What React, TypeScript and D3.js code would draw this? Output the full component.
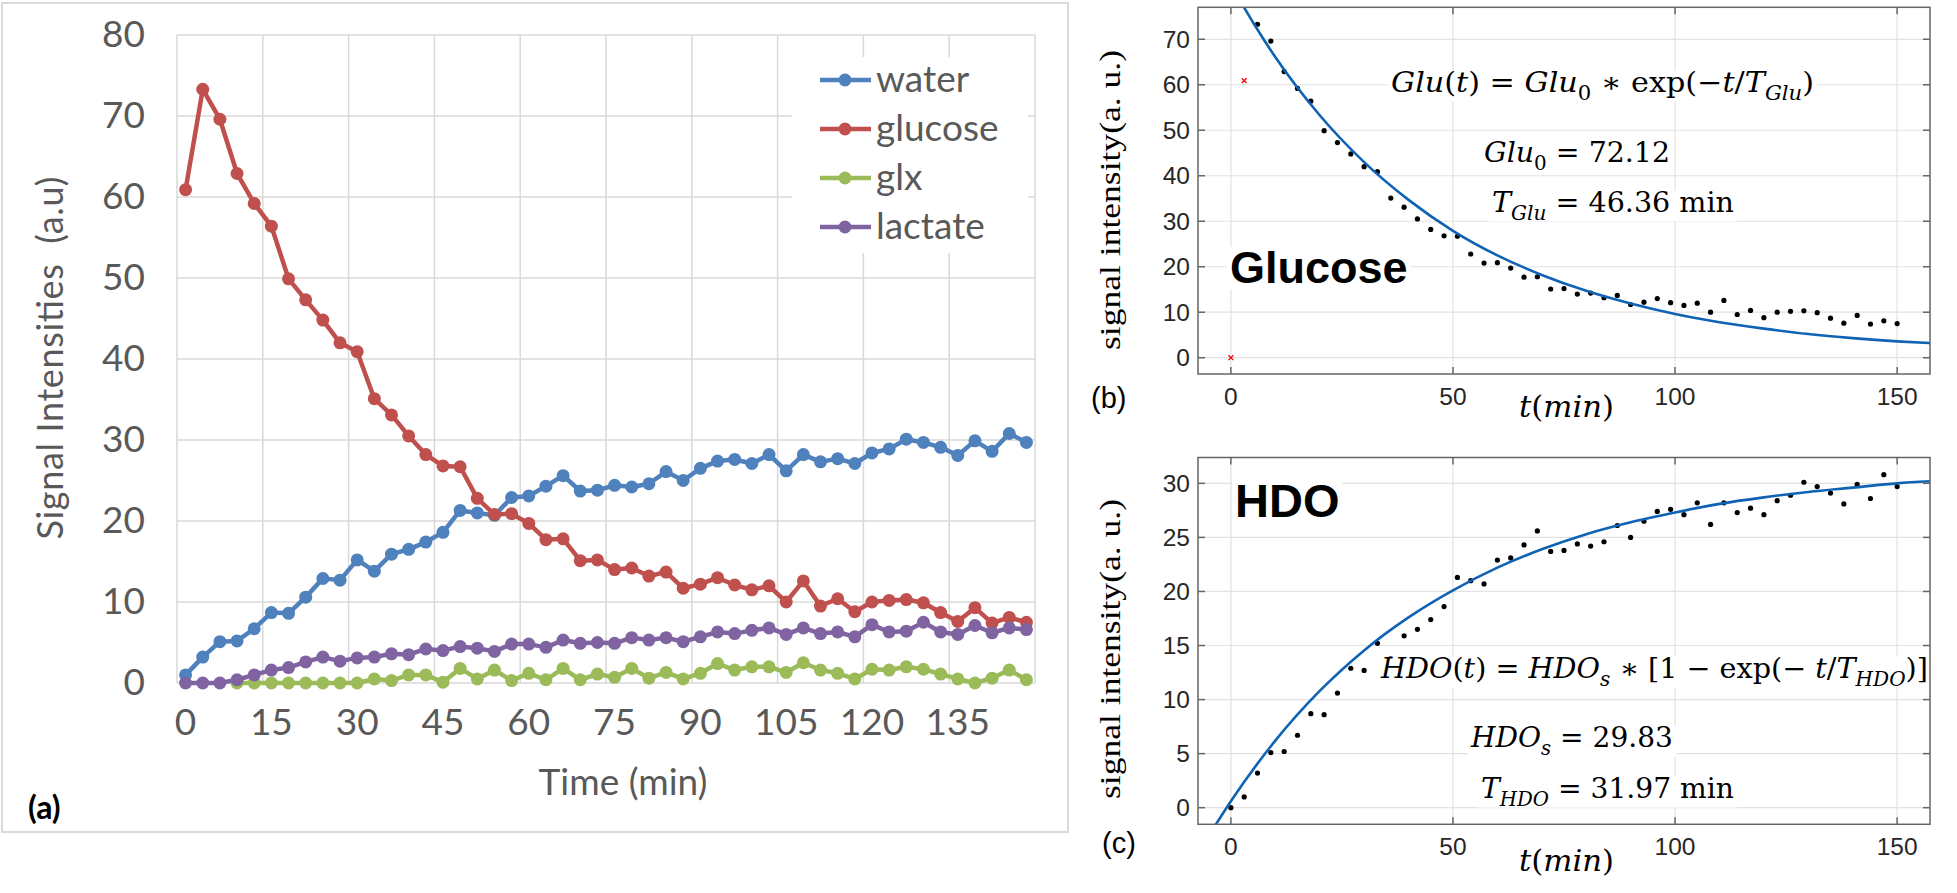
import { useEffect, useRef } from "react";
import * as d3 from "d3";

const WIDTH = 1957;
const HEIGHT = 893;

const EXCEL_FONT = "Lato, 'Open Sans', 'DejaVu Sans', sans-serif";
const MATLAB_FONT = "'Liberation Sans', Arial, sans-serif";
const MATH_FONT = "'DejaVu Serif', 'Liberation Serif', serif";
const TITLE_SERIF = "'Liberation Serif', 'Times New Roman', serif";

// ---- (a) four metabolites, one acquisition every 3 min ----
const TIMES = d3.range(0, 150, 3);
const LABEL_EVERY = 5;

const WATER = [
  1.0, 3.2, 5.1, 5.2, 6.7, 8.7, 8.6, 10.6, 12.9, 12.7,
  15.2, 13.8, 15.9, 16.5, 17.4, 18.6, 21.3, 21.0, 20.7, 22.9,
  23.1, 24.3, 25.6, 23.7, 23.8, 24.4, 24.2, 24.6, 26.1, 25.0,
  26.5, 27.4, 27.6, 27.1, 28.2, 26.2, 28.2, 27.3, 27.7, 27.1,
  28.4, 28.9, 30.1, 29.7, 29.1, 28.1, 29.9, 28.6, 30.8, 29.7,
];
const GLUCOSE = [
  60.9, 73.3, 69.6, 62.9, 59.2, 56.4, 49.9, 47.3, 44.8, 42.0,
  40.9, 35.1, 33.1, 30.5, 28.2, 26.8, 26.7, 22.8, 20.8, 20.9,
  19.7, 17.7, 17.8, 15.1, 15.2, 14.0, 14.2, 13.2, 13.7, 11.7,
  12.2, 13.0, 12.1, 11.5, 12.0, 10.0, 12.6, 9.5, 10.4, 8.8,
  10.0, 10.2, 10.3, 9.9, 8.7, 7.6, 9.3, 7.4, 8.1, 7.5,
];
const GLX: (number | null)[] = [
  null, null, null, 0, 0, 0, 0, 0, 0, 0,
  0, 0.5, 0.3, 1.0, 1.0, 0.1, 1.8, 0.5, 1.6, 0.3,
  1.2, 0.4, 1.8, 0.4, 1.1, 0.7, 1.8, 0.6, 1.3, 0.5,
  1.2, 2.4, 1.6, 2.0, 2.0, 1.3, 2.5, 1.6, 1.2, 0.5,
  1.7, 1.6, 2.0, 1.7, 1.1, 0.5, 0.0, 0.6, 1.6, 0.4,
];
const LACTATE = [
  0, 0, 0, 0.4, 1.0, 1.6, 1.9, 2.6, 3.2, 2.7,
  3.1, 3.2, 3.6, 3.5, 4.2, 4.0, 4.5, 4.3, 3.9, 4.8,
  4.8, 4.4, 5.3, 4.9, 5.0, 4.9, 5.6, 5.3, 5.6, 5.1,
  5.7, 6.3, 6.1, 6.5, 6.8, 6.0, 6.8, 6.1, 6.3, 5.7,
  7.2, 6.3, 6.4, 7.5, 6.3, 6.0, 7.1, 6.2, 6.8, 6.6,
];

const SERIES = [
  { name: "water", color: "#4f81bd", values: WATER as (number | null)[] },
  { name: "glucose", color: "#c0504d", values: GLUCOSE as (number | null)[] },
  { name: "glx", color: "#9bbb59", values: GLX },
  { name: "lactate", color: "#8064a2", values: LACTATE as (number | null)[] },
];

// ---- (b), (c) same acquisitions on a clock starting at 0 ----
const FIT_TIMES = d3.range(0, 151, 3);
const GLU_POINTS = [0, ...GLUCOSE];
const GLU_EXCLUDED = 2; // first two points are left out of the fit (red crosses)
const HDO_POINTS = [0, ...WATER];

// fitted curves
const GLU_CURVE_T = [2, 5, 10, 20, 30, 40, 50, 60, 70, 80, 90, 100, 110, 120, 130, 140, 150, 158];
const GLU_CURVE_V = [78.6, 73.7, 66.1, 53.3, 43.0, 34.7, 27.9, 22.5, 18.2, 14.7, 11.9, 9.6, 7.8, 6.4, 5.2, 4.3, 3.6, 3.2];
const HDO_CURVE_T = [-4, 0, 10, 20, 30, 40, 50, 60, 70, 80, 90, 100, 110, 120, 130, 140, 150, 158];
const HDO_CURVE_V = [-1.95, 0.6, 6.2, 10.8, 14.55, 17.6, 20.1, 22.2, 23.9, 25.3, 26.4, 27.3, 28.1, 28.7, 29.2, 29.6, 30.0, 30.2];

type Seg = { s: string; it?: boolean; sub?: boolean };
type Formula = { segs: Seg[]; x: number; y: number; len: number };

const GLU_FORMULAS: Formula[] = [
  {
    segs: [
      { s: "Glu", it: true }, { s: "(" }, { s: "t", it: true }, { s: ") = " },
      { s: "Glu", it: true }, { s: "0", sub: true }, { s: " ∗ exp(−" }, { s: "t", it: true },
      { s: "/" }, { s: "T", it: true }, { s: "Glu", it: true, sub: true }, { s: ")" },
    ],
    x: 1391, y: 92, len: 423,
  },
  { segs: [{ s: "Glu", it: true }, { s: "0", sub: true }, { s: " = 72.12" }], x: 1484, y: 162, len: 186 },
  { segs: [{ s: "T", it: true }, { s: "Glu", it: true, sub: true }, { s: " = 46.36 min" }], x: 1492, y: 212, len: 242 },
];

const HDO_FORMULAS: Formula[] = [
  {
    segs: [
      { s: "HDO", it: true }, { s: "(" }, { s: "t", it: true }, { s: ") = " },
      { s: "HDO", it: true }, { s: "s", it: true, sub: true }, { s: " ∗ [1 − exp(− " }, { s: "t", it: true },
      { s: "/" }, { s: "T", it: true }, { s: "HDO", it: true, sub: true }, { s: ")]" },
    ],
    x: 1381, y: 678, len: 547,
  },
  { segs: [{ s: "HDO", it: true }, { s: "s", it: true, sub: true }, { s: " = 29.83" }], x: 1471, y: 747, len: 202 },
  { segs: [{ s: "T", it: true }, { s: "HDO", it: true, sub: true }, { s: " = 31.97 min" }], x: 1481, y: 798, len: 253 },
];

type Sel = d3.Selection<SVGGElement, unknown, null, undefined>;

function drawPanelA(g: Sel) {
  g.append("rect")
    .attr("x", 2).attr("y", 3).attr("width", 1066).attr("height", 829)
    .attr("fill", "#fff").attr("stroke", "#d9d9d9").attr("stroke-width", 2);

  const x = d3.scaleBand<number>().domain(d3.range(TIMES.length)).range([177, 1035]);
  const cx = (i: number) => (x(i) ?? 0) + x.bandwidth() / 2;
  const y = d3.scaleLinear().domain([0, 80]).range([683, 35]);
  const [x0, x1] = x.range();

  // Grid
  const hg = g.append("g").attr("stroke", "#d9d9d9").attr("stroke-width", 1.5);
  hg.selectAll("line").data(y.ticks(8)).join("line")
    .attr("x1", x0).attr("x2", x1).attr("y1", (d) => y(d)).attr("y2", (d) => y(d));
  const vIdx = d3.range(0, TIMES.length, LABEL_EVERY);
  const vg = g.append("g").attr("stroke", "#d9d9d9").attr("stroke-width", 1.5);
  vg.selectAll("line").data([...vIdx.map((i) => x(i) ?? 0), x1]).join("line")
    .attr("x1", (d) => d).attr("x2", (d) => d).attr("y1", y(80)).attr("y2", y(0));

  // Axis labels
  g.append("g").selectAll("text").data(y.ticks(8)).join("text")
    .attr("x", 145).attr("y", (d) => y(d) + 12)
    .attr("text-anchor", "end").attr("font-family", EXCEL_FONT).attr("font-size", 37)
    .attr("fill", "#595959").text((d) => d);
  g.append("g").selectAll("text").data(vIdx).join("text")
    .attr("x", (i) => cx(i)).attr("y", 735)
    .attr("text-anchor", "middle").attr("font-family", EXCEL_FONT).attr("font-size", 37)
    .attr("fill", "#595959").text((i) => TIMES[i]);

  g.append("text")
    .attr("x", 623).attr("y", 795).attr("text-anchor", "middle")
    .attr("font-family", EXCEL_FONT).attr("font-size", 37).attr("fill", "#595959")
    .text("Time (min)");
  g.append("text")
    .attr("transform", "translate(63,358) rotate(-90)").attr("text-anchor", "middle")
    .attr("font-family", EXCEL_FONT).attr("font-size", 36).attr("fill", "#595959")
    .attr("textLength", 363).style("white-space", "pre")
    .text("Signal Intensities  (a.u)");
  g.append("text")
    .attr("x", 28).attr("y", 819).attr("font-family", EXCEL_FONT).attr("font-size", 32)
    .attr("font-weight", "bold").attr("fill", "#000").text("(a)");

  // Series
  for (const s of SERIES) {
    const pts = s.values
      .map((v, i) => ({ i, v }))
      .filter((d): d is { i: number; v: number } => d.v != null);
    const line = d3.line<{ i: number; v: number }>().x((d) => cx(d.i)).y((d) => y(d.v));
    const sg = g.append("g");
    sg.append("path").datum(pts).attr("d", line)
      .attr("fill", "none").attr("stroke", s.color).attr("stroke-width", 4.5)
      .attr("stroke-linejoin", "round");
    sg.selectAll("circle").data(pts).join("circle")
      .attr("cx", (d) => cx(d.i)).attr("cy", (d) => y(d.v)).attr("r", 6.5).attr("fill", s.color);
  }

  // Legend
  const lg = g.append("g");
  lg.append("rect").attr("x", 792).attr("y", 57).attr("width", 236).attr("height", 196).attr("fill", "#fff");
  SERIES.forEach((s, k) => {
    const cy = 80 + k * 49;
    lg.append("line").attr("x1", 820).attr("x2", 871).attr("y1", cy).attr("y2", cy)
      .attr("stroke", s.color).attr("stroke-width", 4.5);
    lg.append("circle").attr("cx", 845).attr("cy", cy).attr("r", 6.5).attr("fill", s.color);
    lg.append("text").attr("x", 876).attr("y", cy + 12)
      .attr("font-family", EXCEL_FONT).attr("font-size", 37).attr("fill", "#595959").text(s.name);
  });
}

function mathText(g: Sel, f: Formula, size: number) {
  g.append("rect")
    .attr("x", f.x - 3).attr("y", f.y - size * 0.76)
    .attr("width", f.len + 6).attr("height", size * 1.1).attr("fill", "#fff");
  const t = g.append("text")
    .attr("x", f.x).attr("y", f.y)
    .attr("font-family", MATH_FONT).attr("font-size", size).attr("fill", "#000")
    .attr("textLength", f.len).attr("lengthAdjust", "spacingAndGlyphs")
    .style("white-space", "pre");
  let down = false;
  for (const seg of f.segs) {
    const sp = t.append("tspan").text(seg.s).attr("font-style", seg.it ? "italic" : "normal");
    if (seg.sub) {
      sp.attr("font-size", size * 0.7);
      if (!down) { sp.attr("dy", size * 0.27); down = true; }
    } else if (down) {
      sp.attr("dy", -size * 0.27);
      down = false;
    }
  }
}

interface FitPanel {
  id: string;
  top: number;
  bottom: number;
  yDomain: [number, number];
  yTickCount: number;
  points: number[];
  excluded: number;
  curveT: number[];
  curveV: number[];
  name: string;
  nameX: number;
  nameY: number;
  nameSize: number;
  formulas: Formula[];
  xLabelY: number;
  tLabelY: number;
  tag: string;
  tagX: number;
  tagY: number;
  titleY: number;
}

function drawFitPanel(g: Sel, p: FitPanel) {
  const x = d3.scaleLinear().domain([-7.4, 157.4]).range([1198, 1930]);
  const y = d3.scaleLinear().domain(p.yDomain).range([p.bottom, p.top]);
  const [x0, x1] = x.range();
  const yTicks = y.ticks(p.yTickCount);
  const xTicks = x.ticks(4);

  g.append("clipPath").attr("id", `clip-${p.id}`)
    .append("rect").attr("x", x0).attr("y", p.top).attr("width", x1 - x0).attr("height", p.bottom - p.top);

  // Grid
  const grid = g.append("g").attr("stroke", "#e2e2e2").attr("stroke-width", 1.2);
  grid.selectAll("line.h").data(yTicks).join("line").attr("class", "h")
    .attr("x1", x0).attr("x2", x1).attr("y1", (d) => y(d)).attr("y2", (d) => y(d));
  grid.selectAll("line.v").data(xTicks).join("line").attr("class", "v")
    .attr("x1", (d) => x(d)).attr("x2", (d) => x(d)).attr("y1", p.top).attr("y2", p.bottom);

  // Data
  const pts = p.points.map((v, i) => ({ t: FIT_TIMES[i], v, out: i < p.excluded }));
  g.append("g").selectAll("circle").data(pts.filter((d) => !d.out)).join("circle")
    .attr("cx", (d) => x(d.t)).attr("cy", (d) => y(d.v)).attr("r", 2.6).attr("fill", "#000");
  const xs = g.append("g").attr("stroke", "#ff0000").attr("stroke-width", 1.3);
  for (const d of pts.filter((d) => d.out)) {
    const px = x(d.t), py = y(d.v), r = 2.4;
    xs.append("line").attr("x1", px - r).attr("x2", px + r).attr("y1", py - r).attr("y2", py + r);
    xs.append("line").attr("x1", px - r).attr("x2", px + r).attr("y1", py + r).attr("y2", py - r);
  }

  const curve = d3.line<number>()
    .x((_, i) => x(p.curveT[i]))
    .y((d) => y(d))
    .curve(d3.curveMonotoneX);
  g.append("path").datum(p.curveV).attr("d", curve)
    .attr("clip-path", `url(#clip-${p.id})`)
    .attr("fill", "none").attr("stroke", "#0f62b4").attr("stroke-width", 2.6);

  // Annotations
  const nameBox = g.append("rect").attr("fill", "#fff");
  const nameText = g.append("text").attr("x", p.nameX).attr("y", p.nameY)
    .attr("font-family", MATLAB_FONT).attr("font-weight", "bold").attr("font-size", p.nameSize)
    .attr("fill", "#000").text(p.name);
  const bb = (nameText.node() as SVGTextElement).getBBox();
  nameBox.attr("x", bb.x - 3).attr("y", p.nameY - p.nameSize * 0.8)
    .attr("width", bb.width + 6).attr("height", p.nameSize * 0.95);
  for (const f of p.formulas) mathText(g, f, 28);

  // Box and ticks
  const ax = g.append("g").attr("stroke", "#666").attr("stroke-width", 1.5).attr("fill", "none");
  ax.append("rect").attr("x", x0).attr("y", p.top).attr("width", x1 - x0).attr("height", p.bottom - p.top);
  const tl = 7;
  for (const v of yTicks) {
    ax.append("line").attr("x1", x0).attr("x2", x0 + tl).attr("y1", y(v)).attr("y2", y(v));
    ax.append("line").attr("x1", x1).attr("x2", x1 - tl).attr("y1", y(v)).attr("y2", y(v));
  }
  for (const t of xTicks) {
    ax.append("line").attr("x1", x(t)).attr("x2", x(t)).attr("y1", p.bottom).attr("y2", p.bottom - tl);
    ax.append("line").attr("x1", x(t)).attr("x2", x(t)).attr("y1", p.top).attr("y2", p.top + tl);
  }

  g.append("g").selectAll("text").data(yTicks).join("text")
    .attr("x", 1190).attr("y", (d) => y(d) + 8.5).attr("text-anchor", "end")
    .attr("font-family", MATLAB_FONT).attr("font-size", 24.5).attr("fill", "#262626").text((d) => d);
  g.append("g").selectAll("text").data(xTicks).join("text")
    .attr("x", (d) => x(d)).attr("y", p.xLabelY).attr("text-anchor", "middle")
    .attr("font-family", MATLAB_FONT).attr("font-size", 24.5).attr("fill", "#262626").text((d) => d);

  const tLabel = g.append("text").attr("x", 1519).attr("y", p.tLabelY)
    .attr("font-family", MATH_FONT).attr("font-size", 29).attr("fill", "#000")
    .attr("textLength", 95).attr("lengthAdjust", "spacingAndGlyphs");
  tLabel.append("tspan").attr("font-style", "italic").text("t");
  tLabel.append("tspan").text("(");
  tLabel.append("tspan").attr("font-style", "italic").text("min");
  tLabel.append("tspan").text(")");

  g.append("text")
    .attr("transform", `translate(1120,${p.titleY}) rotate(-90)`).attr("text-anchor", "middle")
    .attr("font-family", TITLE_SERIF).attr("font-size", 30).attr("fill", "#000")
    .attr("textLength", 300).attr("lengthAdjust", "spacingAndGlyphs")
    .text("signal intensity(a. u.)");

  g.append("text").attr("x", p.tagX).attr("y", p.tagY)
    .attr("font-family", MATLAB_FONT).attr("font-size", 29).attr("fill", "#000").text(p.tag);
}

export default function App() {
  const svgRef = useRef<SVGSVGElement>(null);

  useEffect(() => {
    if (!svgRef.current) return;
    const svg = d3.select(svgRef.current);
    svg.selectAll("*").remove();
    svg.append("rect").attr("width", WIDTH).attr("height", HEIGHT).attr("fill", "#fff");

    drawPanelA(svg.append("g") as unknown as Sel);

    drawFitPanel(svg.append("g") as unknown as Sel, {
      id: "b",
      top: 7.3,
      bottom: 374,
      yDomain: [-3.58, 77.03],
      yTickCount: 8,
      points: GLU_POINTS,
      excluded: GLU_EXCLUDED,
      curveT: GLU_CURVE_T,
      curveV: GLU_CURVE_V,
      name: "Glucose",
      nameX: 1230,
      nameY: 283,
      nameSize: 45,
      formulas: GLU_FORMULAS,
      xLabelY: 405,
      tLabelY: 417,
      tag: "(b)",
      tagX: 1091,
      tagY: 408,
      titleY: 200,
    });

    drawFitPanel(svg.append("g") as unknown as Sel, {
      id: "c",
      top: 457.5,
      bottom: 824.3,
      yDomain: [-1.535, 32.39],
      yTickCount: 7,
      points: HDO_POINTS,
      excluded: 0,
      curveT: HDO_CURVE_T,
      curveV: HDO_CURVE_V,
      name: "HDO",
      nameX: 1235,
      nameY: 517,
      nameSize: 47,
      formulas: HDO_FORMULAS,
      xLabelY: 855,
      tLabelY: 871,
      tag: "(c)",
      tagX: 1102,
      tagY: 853,
      titleY: 649,
    });
  }, []);

  return (
    <div style={{ position: "absolute", left: 0, top: 0 }}>
      <svg ref={svgRef} width={WIDTH} height={HEIGHT} style={{ display: "block" }} />
    </div>
  );
}
